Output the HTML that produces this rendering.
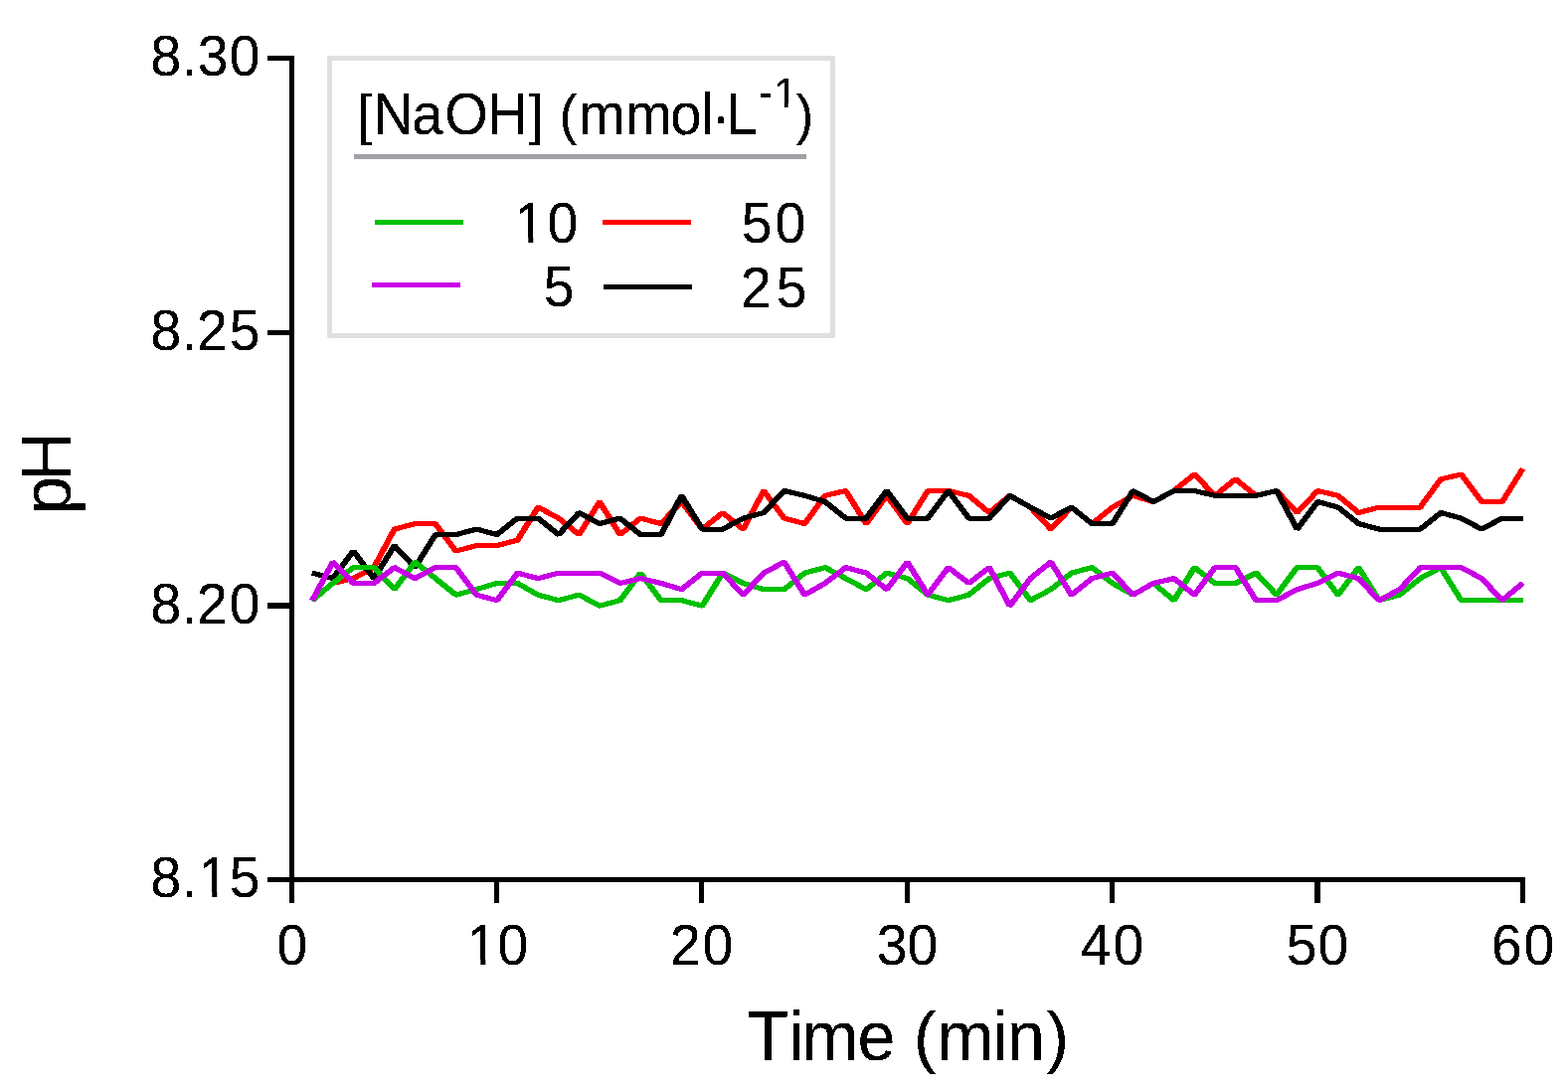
<!DOCTYPE html>
<html lang="en">
<head>
<meta charset="utf-8">
<title>pH vs Time</title>
<style>
html,body{margin:0;padding:0;background:#fff;}
body{width:1577px;height:1097px;}
svg{display:block;}
text{font-family:"Liberation Sans",sans-serif;fill:#000;stroke:#000;stroke-width:0.2px;stroke-linejoin:round;white-space:pre;}
.ax{fill:#000;shape-rendering:crispEdges;}
.ln{fill:none;stroke-width:5;stroke-linejoin:bevel;stroke-linecap:butt;shape-rendering:crispEdges;}
</style>
</head>
<body>
<svg width="1577" height="1097" viewBox="0 0 1577 1097">
<rect x="0" y="0" width="1577" height="1097" fill="#ffffff"/>

<g class="ax">
<rect x="291" y="56" width="5" height="852"/>
<rect x="291" y="882" width="1243" height="5"/>
<rect x="269" y="56" width="27" height="5"/>
<rect x="269" y="332" width="27" height="5"/>
<rect x="269" y="606" width="27" height="6"/>
<rect x="269" y="882" width="27" height="5"/>
<rect x="497" y="882" width="5" height="26"/>
<rect x="703" y="882" width="5" height="26"/>
<rect x="910" y="882" width="5" height="26"/>
<rect x="1116" y="882" width="5" height="26"/>
<rect x="1322" y="882" width="6" height="26"/>
<rect x="1529" y="882" width="5" height="26"/>
</g>
<g stroke="#ff0000"><polyline id="naoh50" class="ln" points="314.13,603.66 334.77,586.44 355.40,581.63 376.03,570.62 396.67,532.07 417.30,526.57 437.93,526.57 458.57,554.10 479.20,548.59 499.83,548.59 520.47,543.09 541.10,510.05 561.73,521.06 582.37,537.58 603.00,504.54 623.63,537.58 644.27,521.06 664.90,526.57 685.53,504.54 706.17,532.07 726.80,515.55 747.43,532.07 768.07,493.53 788.70,521.06 809.33,526.57 829.97,498.33 850.60,493.53 871.23,526.57 891.87,498.33 912.50,526.57 933.13,493.53 953.77,493.53 974.40,498.33 995.03,515.55 1015.67,498.33 1036.30,510.05 1056.93,532.07 1077.57,510.05 1098.20,526.57 1118.83,510.05 1139.47,498.33 1160.10,504.54 1180.73,493.53 1201.37,477.01 1222.00,498.33 1242.63,481.81 1263.27,498.33 1283.90,493.53 1304.53,515.55 1325.17,493.53 1345.80,498.33 1366.43,515.55 1387.07,510.05 1407.70,510.05 1428.33,510.05 1448.97,481.81 1469.60,477.01 1490.23,504.54 1510.87,504.54 1531.50,471.50"/><polyline class="ln" transform="translate(-0.5,0)" points="314.13,603.66 334.77,586.44 355.40,581.63 376.03,570.62 396.67,532.07 417.30,526.57 437.93,526.57 458.57,554.10 479.20,548.59 499.83,548.59 520.47,543.09 541.10,510.05 561.73,521.06 582.37,537.58 603.00,504.54 623.63,537.58 644.27,521.06 664.90,526.57 685.53,504.54 706.17,532.07 726.80,515.55 747.43,532.07 768.07,493.53 788.70,521.06 809.33,526.57 829.97,498.33 850.60,493.53 871.23,526.57 891.87,498.33 912.50,526.57 933.13,493.53 953.77,493.53 974.40,498.33 995.03,515.55 1015.67,498.33 1036.30,510.05 1056.93,532.07 1077.57,510.05 1098.20,526.57 1118.83,510.05 1139.47,498.33 1160.10,504.54 1180.73,493.53 1201.37,477.01 1222.00,498.33 1242.63,481.81 1263.27,498.33 1283.90,493.53 1304.53,515.55 1325.17,493.53 1345.80,498.33 1366.43,515.55 1387.07,510.05 1407.70,510.05 1428.33,510.05 1448.97,481.81 1469.60,477.01 1490.23,504.54 1510.87,504.54 1531.50,471.50"/><polyline class="ln" transform="translate(0.5,0)" points="314.13,603.66 334.77,586.44 355.40,581.63 376.03,570.62 396.67,532.07 417.30,526.57 437.93,526.57 458.57,554.10 479.20,548.59 499.83,548.59 520.47,543.09 541.10,510.05 561.73,521.06 582.37,537.58 603.00,504.54 623.63,537.58 644.27,521.06 664.90,526.57 685.53,504.54 706.17,532.07 726.80,515.55 747.43,532.07 768.07,493.53 788.70,521.06 809.33,526.57 829.97,498.33 850.60,493.53 871.23,526.57 891.87,498.33 912.50,526.57 933.13,493.53 953.77,493.53 974.40,498.33 995.03,515.55 1015.67,498.33 1036.30,510.05 1056.93,532.07 1077.57,510.05 1098.20,526.57 1118.83,510.05 1139.47,498.33 1160.10,504.54 1180.73,493.53 1201.37,477.01 1222.00,498.33 1242.63,481.81 1263.27,498.33 1283.90,493.53 1304.53,515.55 1325.17,493.53 1345.80,498.33 1366.43,515.55 1387.07,510.05 1407.70,510.05 1428.33,510.05 1448.97,481.81 1469.60,477.01 1490.23,504.54 1510.87,504.54 1531.50,471.50"/></g>
<g stroke="#000000"><polyline id="naoh25" class="ln" points="314.13,576.13 334.77,581.63 355.40,554.10 376.03,581.63 396.67,548.59 417.30,570.62 437.93,537.58 458.57,537.58 479.20,532.07 499.83,537.58 520.47,521.06 541.10,521.06 561.73,537.58 582.37,515.55 603.00,526.57 623.63,521.06 644.27,537.58 664.90,537.58 685.53,498.33 706.17,532.07 726.80,532.07 747.43,521.06 768.07,515.55 788.70,493.53 809.33,498.33 829.97,504.54 850.60,521.06 871.23,521.06 891.87,493.53 912.50,521.06 933.13,521.06 953.77,493.53 974.40,521.06 995.03,521.06 1015.67,498.33 1036.30,510.05 1056.93,521.06 1077.57,510.05 1098.20,526.57 1118.83,526.57 1139.47,493.53 1160.10,504.54 1180.73,493.53 1201.37,493.53 1222.00,498.33 1242.63,498.33 1263.27,498.33 1283.90,493.53 1304.53,532.07 1325.17,504.54 1345.80,510.05 1366.43,526.57 1387.07,532.07 1407.70,532.07 1428.33,532.07 1448.97,515.55 1469.60,521.06 1490.23,532.07 1510.87,521.06 1531.50,521.06"/><polyline class="ln" transform="translate(-0.5,0)" points="314.13,576.13 334.77,581.63 355.40,554.10 376.03,581.63 396.67,548.59 417.30,570.62 437.93,537.58 458.57,537.58 479.20,532.07 499.83,537.58 520.47,521.06 541.10,521.06 561.73,537.58 582.37,515.55 603.00,526.57 623.63,521.06 644.27,537.58 664.90,537.58 685.53,498.33 706.17,532.07 726.80,532.07 747.43,521.06 768.07,515.55 788.70,493.53 809.33,498.33 829.97,504.54 850.60,521.06 871.23,521.06 891.87,493.53 912.50,521.06 933.13,521.06 953.77,493.53 974.40,521.06 995.03,521.06 1015.67,498.33 1036.30,510.05 1056.93,521.06 1077.57,510.05 1098.20,526.57 1118.83,526.57 1139.47,493.53 1160.10,504.54 1180.73,493.53 1201.37,493.53 1222.00,498.33 1242.63,498.33 1263.27,498.33 1283.90,493.53 1304.53,532.07 1325.17,504.54 1345.80,510.05 1366.43,526.57 1387.07,532.07 1407.70,532.07 1428.33,532.07 1448.97,515.55 1469.60,521.06 1490.23,532.07 1510.87,521.06 1531.50,521.06"/><polyline class="ln" transform="translate(0.5,0)" points="314.13,576.13 334.77,581.63 355.40,554.10 376.03,581.63 396.67,548.59 417.30,570.62 437.93,537.58 458.57,537.58 479.20,532.07 499.83,537.58 520.47,521.06 541.10,521.06 561.73,537.58 582.37,515.55 603.00,526.57 623.63,521.06 644.27,537.58 664.90,537.58 685.53,498.33 706.17,532.07 726.80,532.07 747.43,521.06 768.07,515.55 788.70,493.53 809.33,498.33 829.97,504.54 850.60,521.06 871.23,521.06 891.87,493.53 912.50,521.06 933.13,521.06 953.77,493.53 974.40,521.06 995.03,521.06 1015.67,498.33 1036.30,510.05 1056.93,521.06 1077.57,510.05 1098.20,526.57 1118.83,526.57 1139.47,493.53 1160.10,504.54 1180.73,493.53 1201.37,493.53 1222.00,498.33 1242.63,498.33 1263.27,498.33 1283.90,493.53 1304.53,532.07 1325.17,504.54 1345.80,510.05 1366.43,526.57 1387.07,532.07 1407.70,532.07 1428.33,532.07 1448.97,515.55 1469.60,521.06 1490.23,532.07 1510.87,521.06 1531.50,521.06"/></g>
<g stroke="#00c000"><polyline id="naoh10" class="ln" points="314.13,603.66 334.77,586.44 355.40,570.62 376.03,570.62 396.67,592.65 417.30,565.11 437.93,581.63 458.57,598.15 479.20,592.65 499.83,586.44 520.47,586.44 541.10,598.15 561.73,603.66 582.37,598.15 603.00,609.17 623.63,603.66 644.27,576.13 664.90,603.66 685.53,603.66 706.17,609.17 726.80,576.13 747.43,586.44 768.07,592.65 788.70,592.65 809.33,576.13 829.97,570.62 850.60,581.63 871.23,592.65 891.87,576.13 912.50,581.63 933.13,598.15 953.77,603.66 974.40,598.15 995.03,581.63 1015.67,576.13 1036.30,603.66 1056.93,592.65 1077.57,576.13 1098.20,570.62 1118.83,586.44 1139.47,598.15 1160.10,586.44 1180.73,603.66 1201.37,570.62 1222.00,586.44 1242.63,586.44 1263.27,576.13 1283.90,598.15 1304.53,570.62 1325.17,570.62 1345.80,598.15 1366.43,570.62 1387.07,603.66 1407.70,598.15 1428.33,581.63 1448.97,570.62 1469.60,603.66 1490.23,603.66 1510.87,603.66 1531.50,603.66"/><polyline class="ln" transform="translate(-0.5,0)" points="314.13,603.66 334.77,586.44 355.40,570.62 376.03,570.62 396.67,592.65 417.30,565.11 437.93,581.63 458.57,598.15 479.20,592.65 499.83,586.44 520.47,586.44 541.10,598.15 561.73,603.66 582.37,598.15 603.00,609.17 623.63,603.66 644.27,576.13 664.90,603.66 685.53,603.66 706.17,609.17 726.80,576.13 747.43,586.44 768.07,592.65 788.70,592.65 809.33,576.13 829.97,570.62 850.60,581.63 871.23,592.65 891.87,576.13 912.50,581.63 933.13,598.15 953.77,603.66 974.40,598.15 995.03,581.63 1015.67,576.13 1036.30,603.66 1056.93,592.65 1077.57,576.13 1098.20,570.62 1118.83,586.44 1139.47,598.15 1160.10,586.44 1180.73,603.66 1201.37,570.62 1222.00,586.44 1242.63,586.44 1263.27,576.13 1283.90,598.15 1304.53,570.62 1325.17,570.62 1345.80,598.15 1366.43,570.62 1387.07,603.66 1407.70,598.15 1428.33,581.63 1448.97,570.62 1469.60,603.66 1490.23,603.66 1510.87,603.66 1531.50,603.66"/><polyline class="ln" transform="translate(0.5,0)" points="314.13,603.66 334.77,586.44 355.40,570.62 376.03,570.62 396.67,592.65 417.30,565.11 437.93,581.63 458.57,598.15 479.20,592.65 499.83,586.44 520.47,586.44 541.10,598.15 561.73,603.66 582.37,598.15 603.00,609.17 623.63,603.66 644.27,576.13 664.90,603.66 685.53,603.66 706.17,609.17 726.80,576.13 747.43,586.44 768.07,592.65 788.70,592.65 809.33,576.13 829.97,570.62 850.60,581.63 871.23,592.65 891.87,576.13 912.50,581.63 933.13,598.15 953.77,603.66 974.40,598.15 995.03,581.63 1015.67,576.13 1036.30,603.66 1056.93,592.65 1077.57,576.13 1098.20,570.62 1118.83,586.44 1139.47,598.15 1160.10,586.44 1180.73,603.66 1201.37,570.62 1222.00,586.44 1242.63,586.44 1263.27,576.13 1283.90,598.15 1304.53,570.62 1325.17,570.62 1345.80,598.15 1366.43,570.62 1387.07,603.66 1407.70,598.15 1428.33,581.63 1448.97,570.62 1469.60,603.66 1490.23,603.66 1510.87,603.66 1531.50,603.66"/></g>
<g stroke="#c800e6"><polyline id="naoh5" class="ln" points="314.13,603.66 334.77,565.11 355.40,586.44 376.03,586.44 396.67,570.62 417.30,581.63 437.93,570.62 458.57,570.62 479.20,598.15 499.83,603.66 520.47,576.13 541.10,581.63 561.73,576.13 582.37,576.13 603.00,576.13 623.63,586.44 644.27,581.63 664.90,586.44 685.53,592.65 706.17,576.13 726.80,576.13 747.43,598.15 768.07,576.13 788.70,565.11 809.33,598.15 829.97,586.44 850.60,570.62 871.23,576.13 891.87,592.65 912.50,565.11 933.13,598.15 953.77,570.62 974.40,586.44 995.03,570.62 1015.67,609.17 1036.30,581.63 1056.93,565.11 1077.57,598.15 1098.20,581.63 1118.83,576.13 1139.47,598.15 1160.10,586.44 1180.73,581.63 1201.37,598.15 1222.00,570.62 1242.63,570.62 1263.27,603.66 1283.90,603.66 1304.53,592.65 1325.17,586.44 1345.80,576.13 1366.43,581.63 1387.07,603.66 1407.70,592.65 1428.33,570.62 1448.97,570.62 1469.60,570.62 1490.23,581.63 1510.87,603.66 1531.50,586.44"/><polyline class="ln" transform="translate(-0.5,0)" points="314.13,603.66 334.77,565.11 355.40,586.44 376.03,586.44 396.67,570.62 417.30,581.63 437.93,570.62 458.57,570.62 479.20,598.15 499.83,603.66 520.47,576.13 541.10,581.63 561.73,576.13 582.37,576.13 603.00,576.13 623.63,586.44 644.27,581.63 664.90,586.44 685.53,592.65 706.17,576.13 726.80,576.13 747.43,598.15 768.07,576.13 788.70,565.11 809.33,598.15 829.97,586.44 850.60,570.62 871.23,576.13 891.87,592.65 912.50,565.11 933.13,598.15 953.77,570.62 974.40,586.44 995.03,570.62 1015.67,609.17 1036.30,581.63 1056.93,565.11 1077.57,598.15 1098.20,581.63 1118.83,576.13 1139.47,598.15 1160.10,586.44 1180.73,581.63 1201.37,598.15 1222.00,570.62 1242.63,570.62 1263.27,603.66 1283.90,603.66 1304.53,592.65 1325.17,586.44 1345.80,576.13 1366.43,581.63 1387.07,603.66 1407.70,592.65 1428.33,570.62 1448.97,570.62 1469.60,570.62 1490.23,581.63 1510.87,603.66 1531.50,586.44"/><polyline class="ln" transform="translate(0.5,0)" points="314.13,603.66 334.77,565.11 355.40,586.44 376.03,586.44 396.67,570.62 417.30,581.63 437.93,570.62 458.57,570.62 479.20,598.15 499.83,603.66 520.47,576.13 541.10,581.63 561.73,576.13 582.37,576.13 603.00,576.13 623.63,586.44 644.27,581.63 664.90,586.44 685.53,592.65 706.17,576.13 726.80,576.13 747.43,598.15 768.07,576.13 788.70,565.11 809.33,598.15 829.97,586.44 850.60,570.62 871.23,576.13 891.87,592.65 912.50,565.11 933.13,598.15 953.77,570.62 974.40,586.44 995.03,570.62 1015.67,609.17 1036.30,581.63 1056.93,565.11 1077.57,598.15 1098.20,581.63 1118.83,576.13 1139.47,598.15 1160.10,586.44 1180.73,581.63 1201.37,598.15 1222.00,570.62 1242.63,570.62 1263.27,603.66 1283.90,603.66 1304.53,592.65 1325.17,586.44 1345.80,576.13 1366.43,581.63 1387.07,603.66 1407.70,592.65 1428.33,570.62 1448.97,570.62 1469.60,570.62 1490.23,581.63 1510.87,603.66 1531.50,586.44"/></g>
<rect x="331.5" y="58.5" width="506" height="279" fill="#ffffff" stroke="#e0e0e0" stroke-width="5" stroke-linejoin="round" shape-rendering="crispEdges"/>
<rect x="356" y="155" width="455" height="5" fill="#a0a1a5" shape-rendering="crispEdges"/>
<g shape-rendering="crispEdges">
<rect x="377" y="221" width="89" height="5" fill="#00c000"/>
<rect x="606" y="221" width="89" height="5" fill="#ff0000"/>
<rect x="374" y="284" width="89" height="5" fill="#c800e6"/>
<rect x="607" y="286" width="89" height="5" fill="#000000"/>
</g>
<defs><clipPath id="nofoot" clipPathUnits="userSpaceOnUse"><path clip-rule="evenodd" d="M0 0H1577V1097H0Z M202.16 896.74H213.3V903.5H202.16Z M218.29 896.74H229V903.5H218.29Z M472.16 964.74H483.3V971.5H472.16Z M488.29 964.74H499V971.5H488.29Z M520.16 238.74H531.3V245.5H520.16Z M536.29 238.74H547V245.5H536.29Z M780.13 103.78H788.83V109.5H780.13Z M792.59 103.78H800.6V109.5H792.59Z"/></clipPath></defs>
<filter id="crisp" filterUnits="userSpaceOnUse" x="0" y="0" width="1577" height="1097" color-interpolation-filters="sRGB"><feComponentTransfer><feFuncA type="discrete" tableValues="0 1"/></feComponentTransfer></filter>
<g clip-path="url(#nofoot)"><g filter="url(#crisp)">
<text font-size="57" transform="translate(0,76) scale(0.97,1)" x="156.31 188.47 204.94 237.76" y="0">8.30</text>
<text font-size="57" transform="translate(0,352) scale(0.97,1)" x="156.31 188.47 204.25 237.81" y="0">8.25</text>
<text font-size="57" transform="translate(0,627) scale(0.97,1)" x="156.31 188.47 204.25 237.76" y="0">8.20</text>
<text font-size="57" transform="translate(0,902) scale(0.97,1)" x="156.31 188.47 205.61 237.81" y="0">8.15</text>
<text font-size="57" transform="translate(0,970) scale(0.97,1)" x="287.24" y="0">0</text>
<text font-size="57" transform="translate(0,970) scale(0.97,1)" x="483.96 516.11" y="0">10</text>
<text font-size="57" transform="translate(0,970) scale(0.97,1)" x="694.97 728.48" y="0">20</text>
<text font-size="57" transform="translate(0,970) scale(0.97,1)" x="909.06 940.85" y="0">30</text>
<text font-size="57" transform="translate(0,970) scale(0.97,1)" x="1120.41 1154.25" y="0">40</text>
<text font-size="57" transform="translate(0,970) scale(0.97,1)" x="1333.69 1366.62" y="0">50</text>
<text font-size="57" transform="translate(0,970) scale(0.97,1)" x="1546.33 1580.03" y="0">60</text>
<text font-size="57" transform="translate(0,244) scale(0.97,1)" x="533.45 567.65" y="0">10</text>
<text font-size="57" transform="translate(0,244) scale(0.97,1)" x="768.74 803.74" y="0">50</text>
<text font-size="57" transform="translate(0,308) scale(0.97,1)" x="563.59" y="0">5</text>
<text font-size="57" transform="translate(0,309) scale(0.97,1)" x="768.17 804.82" y="0">25</text>
<text font-size="58.5" transform="translate(0,135) scale(0.96,1)"><tspan font-size="55.9" x="374.31" y="-1">[</tspan><tspan x="390.84 431.45 465.8 510.63" y="0">NaOH</tspan><tspan font-size="55.9" x="553.9 570.16 586" y="-1">] (</tspan><tspan x="606.35 655.31 702.48 734.63" y="0">mmol</tspan><tspan x="745.48" y="2">·</tspan><tspan x="760.95" y="0">L</tspan><tspan font-size="43.1" x="794.91 810.92" y="-27">-1</tspan><tspan font-size="55.9" x="833.93" y="-1">)</tspan></text>
<text font-size="70.5" transform="translate(0,1066) scale(0.9702,1)"><tspan x="774.7 817.78 831.26 889.03 928.24" y="0">Time </tspan><tspan font-size="68.7" x="947.25" y="0">(</tspan><tspan x="971.43 1029.07 1044.03" y="0">min</tspan><tspan font-size="68.7" x="1085.1" y="0">)</tspan></text>
<text font-size="71" transform="translate(71,520) rotate(-90) scale(0.9704,1)" x="2.65 37.2" y="0">pH</text>
</g></g>
</svg>
</body>
</html>
